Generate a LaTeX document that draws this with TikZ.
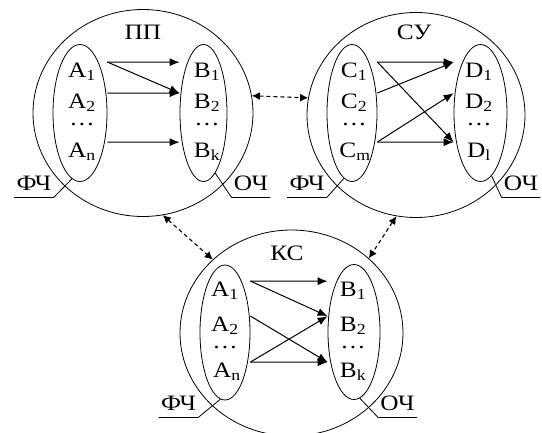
\documentclass[tikz,border=0pt]{standalone}
\usepackage{fontspec}
\setmainfont{Liberation Serif}[FakeStretch=1.15]
\usetikzlibrary{shapes.geometric}
\usetikzlibrary{arrows.meta}

\begin{document}
\begin{tikzpicture}[x=1pt,y=-1pt,font=\fontsize{22}{26}\selectfont,line width=0.8pt,
	outer/.style={ellipse,draw,minimum width=220pt,minimum height=207pt,inner sep=0pt},
	part/.style={ellipse,draw,minimum width=50pt,minimum height=137pt,inner sep=0pt},
	elem/.style={anchor=base,inner sep=0pt},
	tag/.style={anchor=base,inner xsep=2pt,inner ysep=0pt,text depth=7pt},
	link/.style={line width=1pt,-{Latex[length=10pt,width=8pt]}},
	comm/.style={line width=1.1pt,dash pattern=on 4pt off 3pt,{Latex[length=8pt,width=8pt]}-{Latex[length=8pt,width=8pt]}}
	]
\useasboundingbox (0,0) rectangle (542,432);

\node[outer] (pp) at (143,113) {};
\node[part,minimum width=54pt] (ppL) at (80,113) {};
\node[part,minimum width=47pt] (ppR) at (203.5,113) {};
\node[elem] (ppT) at (143,39) {ПП};
\node[elem] (pa1) at (82,77) {A\textsubscript{1}};
\node[elem] (pa2) at (82,108) {A\textsubscript{2}};
\node[elem] (pad) at (82,125) {\dots};
\node[elem] (pan) at (82,157) {A\textsubscript{n}};
\node[elem] (pb1) at (207,77) {B\textsubscript{1}};
\node[elem] (pb2) at (207,108) {B\textsubscript{2}};
\node[elem] (pbd) at (207,125) {\dots};
\node[elem] (pbk) at (207,157) {B\textsubscript{k}};
\draw[link] (ppL.east |- pa1.north) -- (ppR.west |- pb1.north);
\draw[link] (ppL.east |- pa1.north) -- (ppR.west |- pb2.north);
\draw[link] (ppL.east |- pa2.north) -- (ppR.west |- pb2.north);
\draw[link] (ppL.east |- pan.north) -- (ppR.west |- pbk.north);
\node[tag] (ppF) at (34,190) {ФЧ};
\node[tag] (ppO) at (251,190) {ОЧ};
\draw (ppF.south west) -- (ppF.south east) -- (ppL.263);
\draw (ppO.south east) -- (ppO.south west) -- (ppR.281);

\node[outer,minimum width=218pt,minimum height=205pt] (su) at (416,115) {};
\node[part] (suL) at (352,113) {};
\node[part,minimum width=53pt] (suR) at (480.5,113) {};
\node[elem] (suT) at (414,39) {СУ};
\node[elem] (sc1) at (354,77) {C\textsubscript{1}};
\node[elem] (sc2) at (354,108) {C\textsubscript{2}};
\node[elem] (scd) at (354,125) {\dots};
\node[elem] (scm) at (355,157) {C\textsubscript{m}};
\node[elem] (sd1) at (479,77) {D\textsubscript{1}};
\node[elem] (sd2) at (479,108) {D\textsubscript{2}};
\node[elem] (sdd) at (479,125) {\dots};
\node[elem] (sdl) at (479,157) {D\textsubscript{l}};
\draw[link] (suL.east |- sc1.north) -- (suR.west |- sd1.north);
\draw[link] (suL.east |- sc1.north) -- (suR.west |- sdl.north);
\draw[link] (suL.east |- sc2.north) -- (suR.west |- sd1.north);
\draw[link] (suL.east |- scm.north) -- (suR.west |- sd2.north);
\draw[link] (suL.east |- scm.north) -- (suR.west |- sdl.north);
\node[tag] (suF) at (307,190) {ФЧ};
\node[tag] (suO) at (521,190) {ОЧ};
\draw (suF.south west) -- (suF.south east) -- (suL.263);
\draw (suO.south east) -- (suO.south west) -- (suR.280);

\node[outer,minimum width=223pt,minimum height=206pt] (ks) at (291.5,333) {};
\node[part,minimum height=135pt] (ksL) at (225,332.5) {};
\node[part,minimum width=52pt,minimum height=135pt] (ksR) at (354,332) {};
\node[elem] (ksT) at (287,260) {КС};
\node[elem] (ka1) at (225,296) {A\textsubscript{1}};
\node[elem] (ka2) at (225,331) {A\textsubscript{2}};
\node[elem] (kad) at (225,348) {\dots};
\node[elem] (kan) at (227,377) {A\textsubscript{n}};
\node[elem] (kb1) at (353,296) {B\textsubscript{1}};
\node[elem] (kb2) at (353,331) {B\textsubscript{2}};
\node[elem] (kbd) at (353,348) {\dots};
\node[elem] (kbk) at (353,377) {B\textsubscript{k}};
\draw[link] (ksL.east |- ka1.north) -- (ksR.west |- kb1.north);
\draw[link] (ksL.east |- ka1.north) -- (ksR.west |- kb2.north);
\draw[link] (ksL.east |- ka2.north) -- (ksR.west |- kbk.north);
\draw[link] (ksL.east |- kan.north) -- (ksR.west |- kb2.north);
\draw[link] (ksL.east |- kan.north) -- (ksR.west |- kbk.north);
\node[tag] (ksF) at (178.5,410) {ФЧ};
\node[tag] (ksO) at (397.5,410) {ОЧ};
\draw (ksF.south west) -- (ksF.south east) -- (ksL.266);
\draw (ksO.south east) -- (ksO.south west) -- (ksR.275);

\draw[comm] (pp.9) -- (su.171);
\draw[comm] (pp.281) -- (ks.137);
\draw[comm] (su.259) -- (ks.44);
\end{tikzpicture}
\end{document}
